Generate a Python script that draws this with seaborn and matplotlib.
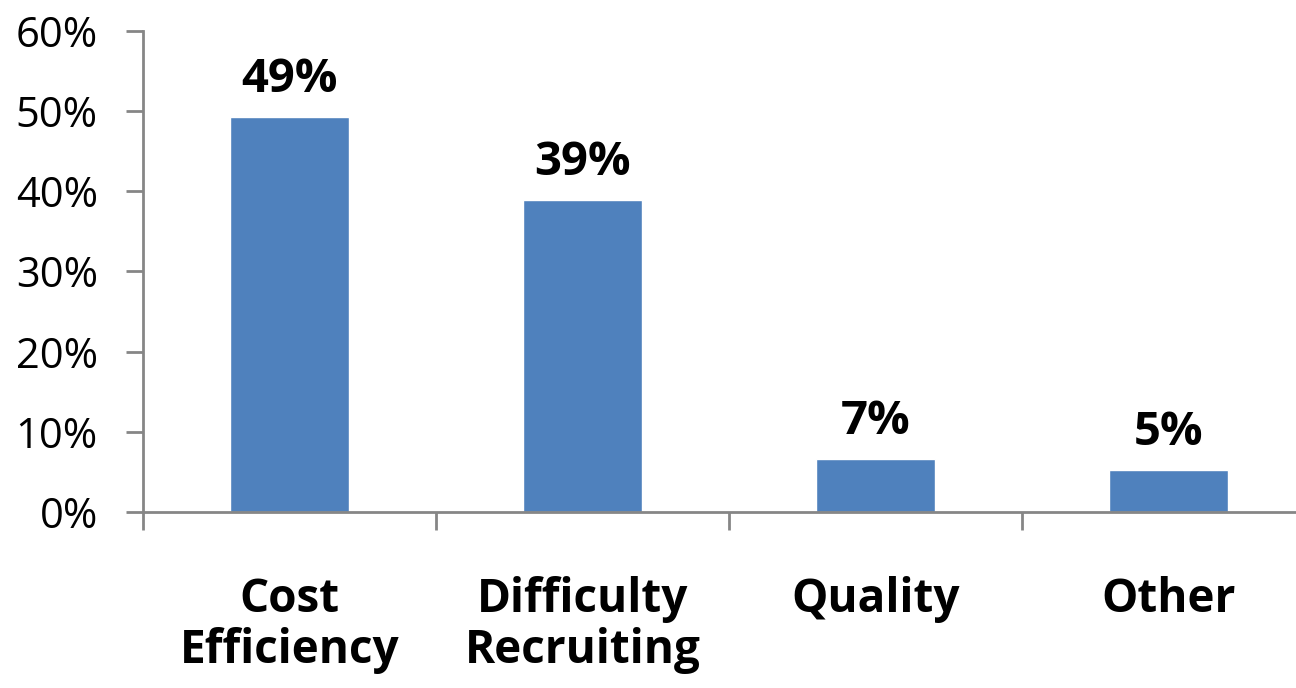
import matplotlib
matplotlib.use("Agg")
import matplotlib.pyplot as plt
import seaborn as sns
import pandas as pd
from matplotlib.ticker import FixedLocator

categories = ["Cost\nEfficiency", "Difficulty\nRecruiting", "Quality", "Other"]
shares = [49.2, 38.9, 6.6, 5.2]
y_ticks = [0, 10, 20, 30, 40, 50, 60]
y_tick_labels = [f"{t}%" for t in y_ticks]

df = pd.DataFrame({"reason": categories, "share": shares})

sns.set_theme(style="white")
plt.rcParams["font.family"] = ["Open Sans", "DejaVu Sans"]
plt.rcParams["text.color"] = "black"

fig = plt.figure(figsize=(12.96, 6.88), dpi=100)
ax = fig.add_axes([143 / 1296, (688 - 512) / 688, 1172 / 1296, (512 - 30.7) / 688])

bar_color = "#4F81BD"
axis_color = "#868686"

sns.barplot(data=df, x="reason", y="share", color=bar_color, width=0.405,
            saturation=1, ax=ax)

ax.set_xlim(-0.5, 3.5)
ax.set_ylim(0, 60)
ax.set_yticks(y_ticks)
ax.set_yticklabels(y_tick_labels, fontsize=30)
ax.set_xlabel("")
ax.set_ylabel("")

# category labels centred under the bars, tick marks on category boundaries
ax.tick_params(axis="x", which="major", length=0, pad=46, labelsize=33,
               labelcolor="black")
for lbl in ax.get_xticklabels():
    lbl.set_fontweight("bold")
    lbl.set_linespacing(1.12)
ax.xaxis.set_minor_locator(FixedLocator([-0.5, 0.5, 1.5, 2.5, 3.5]))
ax.tick_params(axis="x", which="minor", bottom=True, length=13, width=2,
               color=axis_color, direction="out")
ax.tick_params(axis="y", which="major", left=True, length=12.5, width=2,
               color=axis_color, direction="out", pad=20, labelcolor="black")

for side in ("top", "right"):
    ax.spines[side].set_visible(False)
for side in ("left", "bottom"):
    ax.spines[side].set_color(axis_color)
    ax.spines[side].set_linewidth(2)
ax.grid(False)

ax.bar_label(ax.containers[0], labels=[f"{v:.0f}%" for v in shares],
             padding=10, fontsize=34, fontweight="bold", color="black")

fig.savefig("out.png", dpi=100, facecolor="white")
